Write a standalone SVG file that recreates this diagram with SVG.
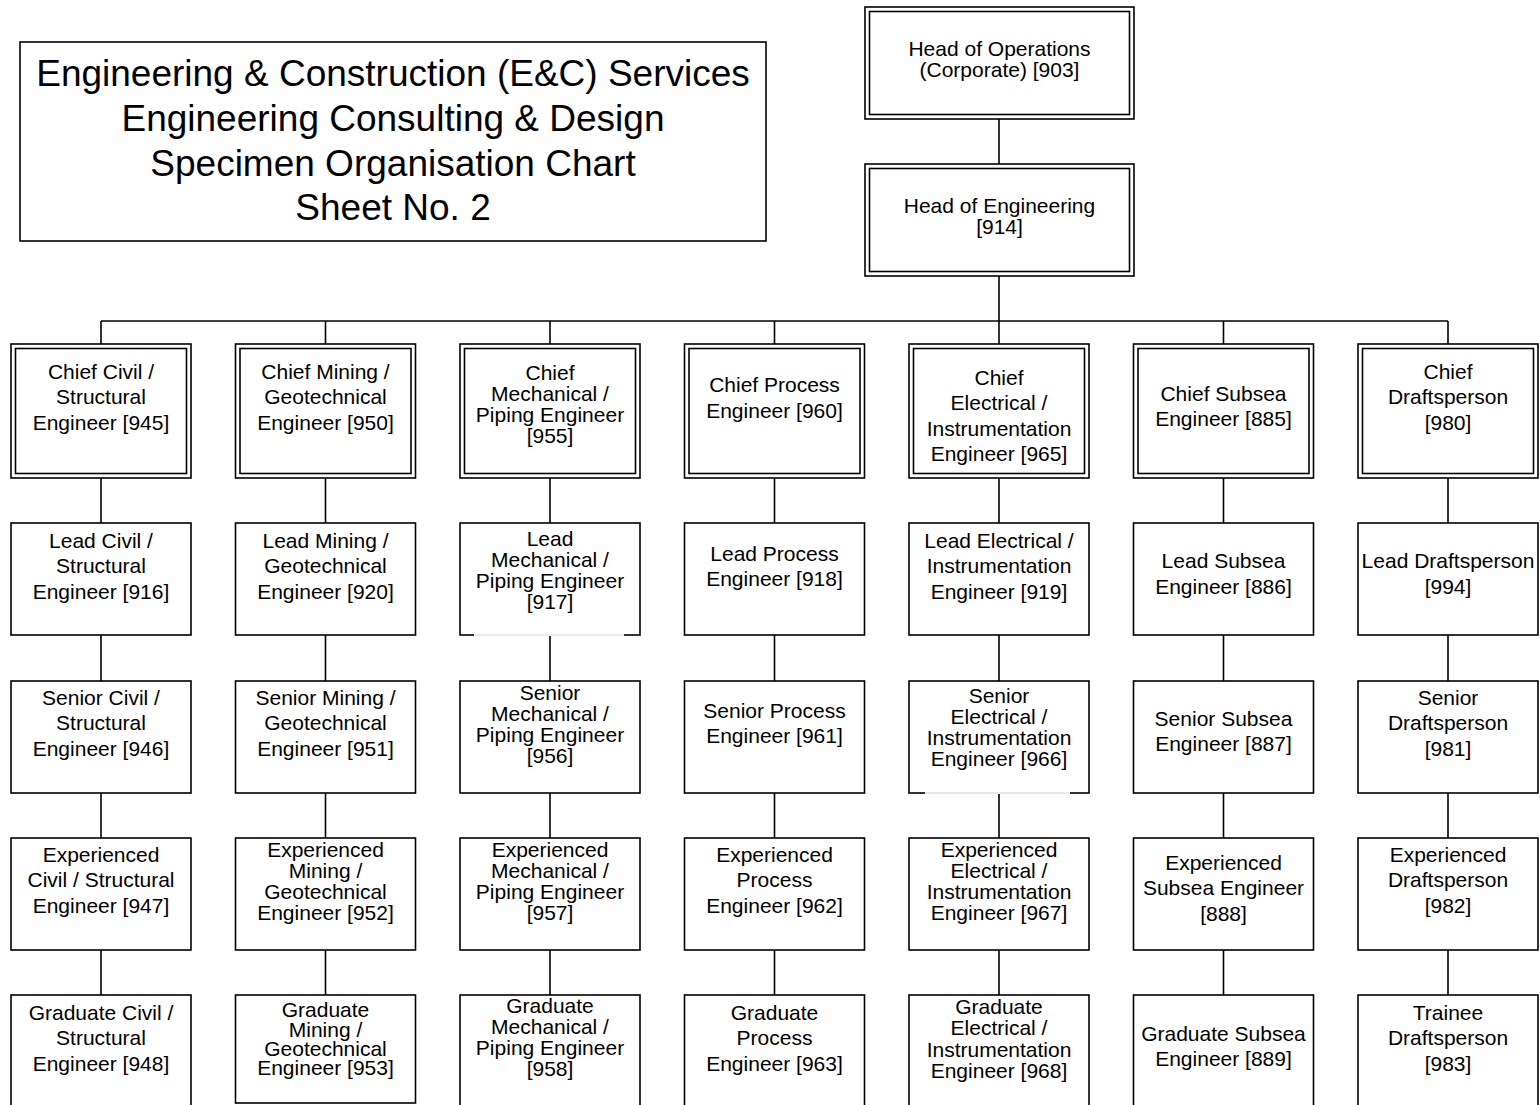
<svg xmlns="http://www.w3.org/2000/svg" width="1540" height="1105" viewBox="0 0 1540 1105">
<style>
.bg{fill:#fff}
.box{fill:#fff;stroke:#000;stroke-width:1.6}
.in{fill:none;stroke:#000;stroke-width:1.6}
.c{stroke:#000;stroke-width:1.6;fill:none}
.t{font-family:"Liberation Sans",Arial,sans-serif;font-size:21px;text-anchor:middle;fill:#000}
.title{font-family:"Liberation Sans",Arial,sans-serif;font-size:37px;text-anchor:middle;fill:#000}
</style>
<rect class="bg" x="0" y="0" width="1540" height="1105"/>
<g id="connectors">
<line class="c" x1="999" y1="119" x2="999" y2="164"/>
<line class="c" x1="999" y1="276" x2="999" y2="321"/>
<line class="c" x1="101" y1="321" x2="1448" y2="321"/>
<path class="c" d="M101 321V344M325.5 321V344M550 321V344M774.5 321V344M999 321V344M1223.5 321V344M1448 321V344"/>
<path class="c" d="M101 478V523M325.5 478V523M550 478V523M774.5 478V523M999 478V523M1223.5 478V523M1448 478V523"/>
<path class="c" d="M101 635V681M325.5 635V681M550 635V681M774.5 635V681M999 635V681M1223.5 635V681M1448 635V681"/>
<path class="c" d="M101 793V838M325.5 793V838M550 793V838M774.5 793V838M999 793V838M1223.5 793V838M1448 793V838"/>
<path class="c" d="M101 950V995M325.5 950V995M550 950V995M774.5 950V995M999 950V995M1223.5 950V995M1448 950V995"/>
</g>
<g id="title">
<rect class="box" x="20" y="42" width="746" height="199"/>
<text class="title" x="393"><tspan x="393" y="86">Engineering &amp; Construction (E&amp;C) Services</tspan><tspan x="393" y="131">Engineering Consulting &amp; Design</tspan><tspan x="393" y="176">Specimen Organisation Chart</tspan><tspan x="393" y="220">Sheet No. 2</tspan></text>
</g>
<g id="n903">
<rect class="box" x="865" y="7" width="269" height="112"/>
<rect class="in" x="869.5" y="11.5" width="260" height="103"/>
<text class="t"><tspan x="999.5" y="55.5">Head of Operations</tspan><tspan x="999.5" y="76.5">(Corporate) [903]</tspan></text>
</g>
<g id="n914">
<rect class="box" x="865" y="164" width="269" height="112"/>
<rect class="in" x="869.5" y="168.5" width="260" height="103"/>
<text class="t"><tspan x="999.5" y="212.5">Head of Engineering</tspan><tspan x="999.5" y="233.5">[914]</tspan></text>
</g>
<!-- Chief row -->
<g id="n945">
<rect class="box" x="11" y="344" width="180" height="134"/>
<rect class="in" x="15.5" y="348.5" width="171" height="125"/>
<text class="t"><tspan x="101" y="378.5">Chief Civil /</tspan><tspan x="101" y="404">Structural</tspan><tspan x="101" y="429.5">Engineer [945]</tspan></text>
</g>
<g id="n950">
<rect class="box" x="235.5" y="344" width="180" height="134"/>
<rect class="in" x="240" y="348.5" width="171" height="125"/>
<text class="t"><tspan x="325.5" y="378.5">Chief Mining /</tspan><tspan x="325.5" y="404">Geotechnical</tspan><tspan x="325.5" y="429.5">Engineer [950]</tspan></text>
</g>
<g id="n955">
<rect class="box" x="460" y="344" width="180" height="134"/>
<rect class="in" x="464.5" y="348.5" width="171" height="125"/>
<text class="t"><tspan x="550" y="379.5">Chief</tspan><tspan x="550" y="400.5">Mechanical /</tspan><tspan x="550" y="421.5">Piping Engineer</tspan><tspan x="550" y="442.5">[955]</tspan></text>
</g>
<g id="n960">
<rect class="box" x="684.5" y="344" width="180" height="134"/>
<rect class="in" x="689" y="348.5" width="171" height="125"/>
<text class="t"><tspan x="774.5" y="391.5">Chief Process</tspan><tspan x="774.5" y="417.5">Engineer [960]</tspan></text>
</g>
<g id="n965">
<rect class="box" x="909" y="344" width="180" height="134"/>
<rect class="in" x="913.5" y="348.5" width="171" height="125"/>
<text class="t"><tspan x="999" y="384.5">Chief</tspan><tspan x="999" y="409.5">Electrical /</tspan><tspan x="999" y="435.5">Instrumentation</tspan><tspan x="999" y="460.5">Engineer [965]</tspan></text>
</g>
<g id="n885">
<rect class="box" x="1133.5" y="344" width="180" height="134"/>
<rect class="in" x="1138" y="348.5" width="171" height="125"/>
<text class="t"><tspan x="1223.5" y="400.5">Chief Subsea</tspan><tspan x="1223.5" y="425.5">Engineer [885]</tspan></text>
</g>
<g id="n980">
<rect class="box" x="1358" y="344" width="180" height="134"/>
<rect class="in" x="1362.5" y="348.5" width="171" height="125"/>
<text class="t"><tspan x="1448" y="378.5">Chief</tspan><tspan x="1448" y="404">Draftsperson</tspan><tspan x="1448" y="429.5">[980]</tspan></text>
</g>
<!-- Lead row -->
<g id="n916">
<rect class="box" x="11" y="523" width="180" height="112"/>
<text class="t"><tspan x="101" y="547.5">Lead Civil /</tspan><tspan x="101" y="572.5">Structural</tspan><tspan x="101" y="598.5">Engineer [916]</tspan></text>
</g>
<g id="n920">
<rect class="box" x="235.5" y="523" width="180" height="112"/>
<text class="t"><tspan x="325.5" y="547.5">Lead Mining /</tspan><tspan x="325.5" y="572.5">Geotechnical</tspan><tspan x="325.5" y="598.5">Engineer [920]</tspan></text>
</g>
<g id="n917">
<rect class="box" x="460" y="523" width="180" height="112"/>
<line x1="474" y1="635" x2="624" y2="635" stroke="#fff" stroke-width="2"/>
<line x1="474" y1="635" x2="624" y2="635" stroke="#c8c8c8" stroke-width="0.8"/>
<text class="t"><tspan x="550" y="545.5">Lead</tspan><tspan x="550" y="566.5">Mechanical /</tspan><tspan x="550" y="587.5">Piping Engineer</tspan><tspan x="550" y="608.5">[917]</tspan></text>
</g>
<g id="n918">
<rect class="box" x="684.5" y="523" width="180" height="112"/>
<text class="t"><tspan x="774.5" y="560.5">Lead Process</tspan><tspan x="774.5" y="585.5">Engineer [918]</tspan></text>
</g>
<g id="n919">
<rect class="box" x="909" y="523" width="180" height="112"/>
<text class="t"><tspan x="999" y="547.5">Lead Electrical /</tspan><tspan x="999" y="572.5">Instrumentation</tspan><tspan x="999" y="598.5">Engineer [919]</tspan></text>
</g>
<g id="n886">
<rect class="box" x="1133.5" y="523" width="180" height="112"/>
<text class="t"><tspan x="1223.5" y="567.5">Lead Subsea</tspan><tspan x="1223.5" y="593.5">Engineer [886]</tspan></text>
</g>
<g id="n994">
<rect class="box" x="1358" y="523" width="180" height="112"/>
<text class="t"><tspan x="1448" y="567.5">Lead Draftsperson</tspan><tspan x="1448" y="593.5">[994]</tspan></text>
</g>
<!-- Senior row -->
<g id="n946">
<rect class="box" x="11" y="681" width="180" height="112"/>
<text class="t"><tspan x="101" y="704.5">Senior Civil /</tspan><tspan x="101" y="729.5">Structural</tspan><tspan x="101" y="755.5">Engineer [946]</tspan></text>
</g>
<g id="n951">
<rect class="box" x="235.5" y="681" width="180" height="112"/>
<text class="t"><tspan x="325.5" y="704.5">Senior Mining /</tspan><tspan x="325.5" y="729.5">Geotechnical</tspan><tspan x="325.5" y="755.5">Engineer [951]</tspan></text>
</g>
<g id="n956">
<rect class="box" x="460" y="681" width="180" height="112"/>
<text class="t"><tspan x="550" y="699.5">Senior</tspan><tspan x="550" y="720.5">Mechanical /</tspan><tspan x="550" y="741.5">Piping Engineer</tspan><tspan x="550" y="762.5">[956]</tspan></text>
</g>
<g id="n961">
<rect class="box" x="684.5" y="681" width="180" height="112"/>
<text class="t"><tspan x="774.5" y="717.5">Senior Process</tspan><tspan x="774.5" y="742.5">Engineer [961]</tspan></text>
</g>
<g id="n966">
<rect class="box" x="909" y="681" width="180" height="112"/>
<line x1="925" y1="793" x2="1070" y2="793" stroke="#fff" stroke-width="2"/>
<line x1="925" y1="793" x2="1070" y2="793" stroke="#c8c8c8" stroke-width="0.8"/>
<text class="t"><tspan x="999" y="702.5">Senior</tspan><tspan x="999" y="723.5">Electrical /</tspan><tspan x="999" y="744.5">Instrumentation</tspan><tspan x="999" y="765.5">Engineer [966]</tspan></text>
</g>
<g id="n887">
<rect class="box" x="1133.5" y="681" width="180" height="112"/>
<text class="t"><tspan x="1223.5" y="725.5">Senior Subsea</tspan><tspan x="1223.5" y="750.5">Engineer [887]</tspan></text>
</g>
<g id="n981">
<rect class="box" x="1358" y="681" width="180" height="112"/>
<text class="t"><tspan x="1448" y="704.5">Senior</tspan><tspan x="1448" y="729.5">Draftsperson</tspan><tspan x="1448" y="755.5">[981]</tspan></text>
</g>
<!-- Experienced row -->
<g id="n947">
<rect class="box" x="11" y="838" width="180" height="112"/>
<text class="t"><tspan x="101" y="861.5">Experienced</tspan><tspan x="101" y="886.5">Civil / Structural</tspan><tspan x="101" y="912.5">Engineer [947]</tspan></text>
</g>
<g id="n952">
<rect class="box" x="235.5" y="838" width="180" height="112"/>
<text class="t"><tspan x="325.5" y="856.5">Experienced</tspan><tspan x="325.5" y="877.5">Mining /</tspan><tspan x="325.5" y="898.5">Geotechnical</tspan><tspan x="325.5" y="919.5">Engineer [952]</tspan></text>
</g>
<g id="n957">
<rect class="box" x="460" y="838" width="180" height="112"/>
<text class="t"><tspan x="550" y="856.5">Experienced</tspan><tspan x="550" y="877.5">Mechanical /</tspan><tspan x="550" y="898.5">Piping Engineer</tspan><tspan x="550" y="919.5">[957]</tspan></text>
</g>
<g id="n962">
<rect class="box" x="684.5" y="838" width="180" height="112"/>
<text class="t"><tspan x="774.5" y="861.5">Experienced</tspan><tspan x="774.5" y="886.5">Process</tspan><tspan x="774.5" y="912.5">Engineer [962]</tspan></text>
</g>
<g id="n967">
<rect class="box" x="909" y="838" width="180" height="112"/>
<text class="t"><tspan x="999" y="856.5">Experienced</tspan><tspan x="999" y="877.5">Electrical /</tspan><tspan x="999" y="898.5">Instrumentation</tspan><tspan x="999" y="919.5">Engineer [967]</tspan></text>
</g>
<g id="n888">
<rect class="box" x="1133.5" y="838" width="180" height="112"/>
<text class="t"><tspan x="1223.5" y="869.5">Experienced</tspan><tspan x="1223.5" y="894.5">Subsea Engineer</tspan><tspan x="1223.5" y="920.5">[888]</tspan></text>
</g>
<g id="n982">
<rect class="box" x="1358" y="838" width="180" height="112"/>
<text class="t"><tspan x="1448" y="861.5">Experienced</tspan><tspan x="1448" y="886.5">Draftsperson</tspan><tspan x="1448" y="912.5">[982]</tspan></text>
</g>
<!-- Graduate row -->
<g id="n948">
<rect class="box" x="11" y="995" width="180" height="112"/>
<text class="t"><tspan x="101" y="1019.5">Graduate Civil /</tspan><tspan x="101" y="1044.5">Structural</tspan><tspan x="101" y="1070.5">Engineer [948]</tspan></text>
</g>
<g id="n953">
<rect class="box" x="235.5" y="995" width="180" height="108"/>
<text class="t"><tspan x="325.5" y="1017">Graduate</tspan><tspan x="325.5" y="1036.5">Mining /</tspan><tspan x="325.5" y="1056">Geotechnical</tspan><tspan x="325.5" y="1075">Engineer [953]</tspan></text>
</g>
<g id="n958">
<rect class="box" x="460" y="995" width="180" height="112"/>
<text class="t"><tspan x="550" y="1012.5">Graduate</tspan><tspan x="550" y="1033.5">Mechanical /</tspan><tspan x="550" y="1054.5">Piping Engineer</tspan><tspan x="550" y="1075.5">[958]</tspan></text>
</g>
<g id="n963">
<rect class="box" x="684.5" y="995" width="180" height="112"/>
<text class="t"><tspan x="774.5" y="1019.5">Graduate</tspan><tspan x="774.5" y="1044.5">Process</tspan><tspan x="774.5" y="1070.5">Engineer [963]</tspan></text>
</g>
<g id="n968">
<rect class="box" x="909" y="995" width="180" height="112"/>
<text class="t"><tspan x="999" y="1013.5">Graduate</tspan><tspan x="999" y="1034.5">Electrical /</tspan><tspan x="999" y="1056.5">Instrumentation</tspan><tspan x="999" y="1077.5">Engineer [968]</tspan></text>
</g>
<g id="n889">
<rect class="box" x="1133.5" y="995" width="180" height="112"/>
<text class="t"><tspan x="1223.5" y="1040.5">Graduate Subsea</tspan><tspan x="1223.5" y="1065.5">Engineer [889]</tspan></text>
</g>
<g id="n983">
<rect class="box" x="1358" y="995" width="180" height="112"/>
<text class="t"><tspan x="1448" y="1019.5">Trainee</tspan><tspan x="1448" y="1044.5">Draftsperson</tspan><tspan x="1448" y="1070.5">[983]</tspan></text>
</g>
</svg>
